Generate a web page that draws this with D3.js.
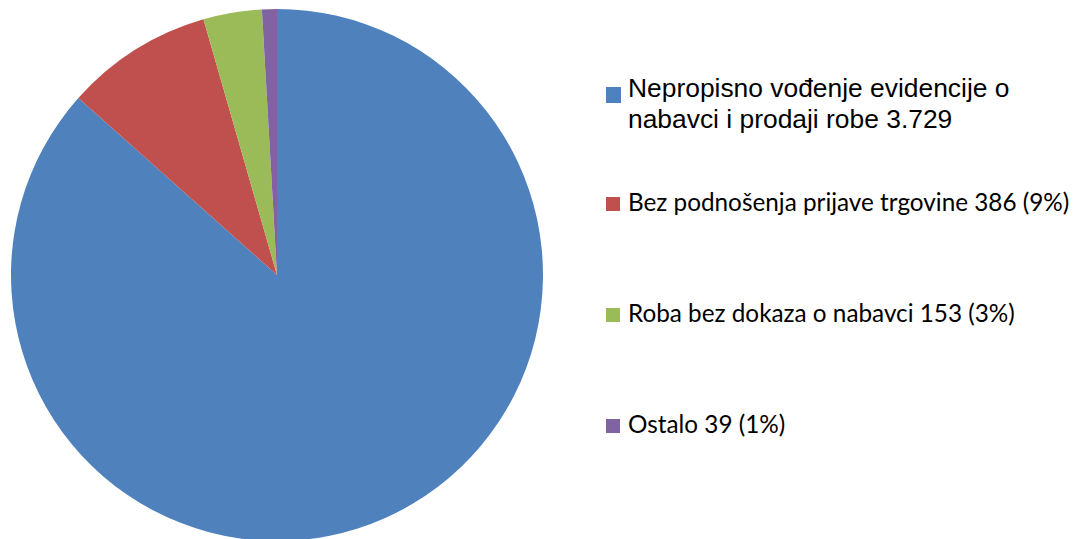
<!DOCTYPE html>
<html>
<head>
<meta charset="utf-8">
<title>Pie</title>
<style>
  body { margin: 0; background: #fff; }
  svg { display: block; }
  .arial { font-family: "Liberation Sans", Arial, sans-serif; }
  .calibri { font-family: Lato, Carlito, Calibri, sans-serif; }
</style>
</head>
<body>
<svg id="chart" width="1085" height="539"></svg>
<script src="https://d3js.org/d3.v7.min.js"></script>
<script>
// data
const categories = [
  "Nepropisno vođenje evidencije o nabavci i prodaji robe 3.729",
  "Bez podnošenja prijave trgovine 386 (9%)",
  "Roba bez dokaza o nabavci 153 (3%)",
  "Ostalo 39 (1%)"
];
const values = [3729, 386, 153, 39];
const colors = ["#4F81BD", "#C0504D", "#9BBB59", "#8064A2"];

const svg = d3.select("#chart");
const cx = 277, cy = 275, r = 266;

const pie = d3.pie().sort(null).value(d => d)(values);
const arc = d3.arc().innerRadius(0).outerRadius(r);

svg.append("g")
  .attr("transform", `translate(${cx},${cy})`)
  .selectAll("path")
  .data(pie)
  .join("path")
  .attr("d", arc)
  .attr("fill", (d, i) => colors[i]);

// legend
const legend = svg.append("g");

// first entry wraps on two lines, different font
const first = legend.append("g");
first.append("rect")
  .attr("x", 606).attr("y", 87).attr("width", 15).attr("height", 16)
  .attr("fill", colors[0]);
const t = first.append("text")
  .attr("class", "arial")
  .attr("font-size", 26.4)
  .attr("fill", "#000");
t.append("tspan").attr("x", 628).attr("y", 97).text("Nepropisno vođenje evidencije o");
t.append("tspan").attr("x", 628).attr("y", 128).text("nabavci i prodaji robe 3.729");

const rest = [1, 2, 3];
const baselines = d3.scaleLinear().domain([1, 3]).range([211, 433]);

const items = legend.selectAll("g.item")
  .data(rest)
  .join("g")
  .attr("class", "item");

items.append("rect")
  .attr("x", 606)
  .attr("y", i => baselines(i) - 14)
  .attr("width", 14).attr("height", 14)
  .attr("fill", i => colors[i]);

items.append("text")
  .attr("class", "calibri")
  .attr("x", 628)
  .attr("y", i => baselines(i))
  .attr("font-size", 24.3)
  .attr("fill", "#000")
  .text(i => categories[i]);
</script>
</body>
</html>
